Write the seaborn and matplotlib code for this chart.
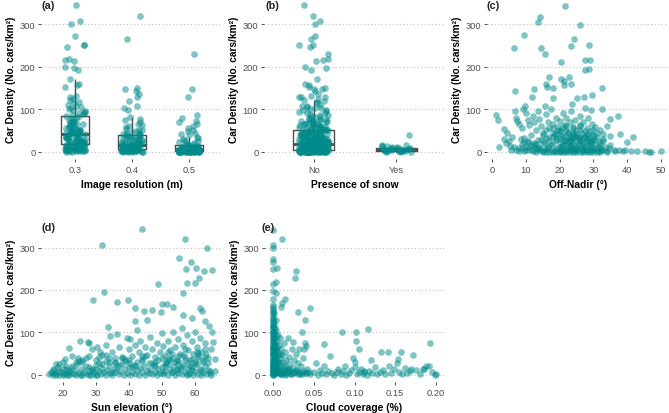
import numpy as np
import pandas as pd
import matplotlib
matplotlib.use("Agg")
import matplotlib.pyplot as plt
import seaborn as sns

# ---------------- data ----------------
res_levels = ["0.3", "0.4", "0.5"]
res03 = [345, 307, 300, 273, 252, 250, 247, 218, 216, 214,
         200, 196, 193, 171, 160, 157, 152, 130, 128, 125,
         122, 118, 115, 110, 108, 105, 103, 100, 98, 96,
         94, 92, 90, 88, 86,
         83, 81, 79, 77, 75, 73, 72, 70, 68, 67,
         65, 64, 62, 61, 60, 58, 57, 56, 55, 54,
         53, 52, 51, 50, 49, 48, 47, 46, 45, 45,
         44, 43, 43, 42, 42,
         41, 40, 39, 38, 37, 36, 35, 34, 33, 32,
         32, 31, 30, 29, 28, 28, 27, 26, 25, 25,
         24, 23, 23, 22, 22, 21, 21, 20, 20, 19,
         19, 18, 18, 18, 18,
         17, 16, 15, 15, 14, 13, 12, 12, 11, 10,
         10, 9, 9, 8, 8, 7, 7, 6, 6, 5,
         5, 5, 4, 4, 3, 3, 3, 2, 2, 2,
         1, 1, 1, 0, 0]
res04 = [320, 265, 150, 147, 143, 135, 128, 120, 108, 102, 97,
         81, 78, 74, 70, 66, 62, 60, 57, 54, 52, 50, 48, 46, 44, 43, 42, 41,
         40, 39, 38, 37, 36, 35, 34, 33, 32, 31, 30, 29, 28, 27, 26, 25,
         24, 23, 22, 21, 21, 20, 19, 19, 18, 18, 17, 16,
         16, 15, 15, 14, 14, 13, 13, 12, 12, 11, 11, 10, 10, 10, 9, 9,
         8, 8, 8, 7, 7, 7, 6, 6, 6, 6, 6, 6,
         5, 5, 5, 4, 4, 4, 4, 3, 3, 3, 3, 3, 2, 2, 2, 2, 2,
         1, 1, 1, 1, 1, 1, 0, 0, 0, 0, 0]
res05 = [230, 148, 128, 87, 80, 73, 70, 64, 60, 56, 52, 48, 45, 42, 39,
         35, 32, 30, 28, 26, 24, 22, 20, 18, 17,
         15, 15, 14, 13, 13, 12, 12, 11, 11, 10, 10, 9, 9, 9, 8, 8, 8,
         7, 7, 7, 7, 6, 6, 6, 6,
         6, 5, 5, 5, 5, 4, 4, 4, 4, 3, 3, 3, 3, 3, 2, 2, 2, 2, 2, 2,
         1, 1, 1, 1, 1,
         1, 1, 1, 1, 1, 1, 0, 0, 0, 0, 0, 0, 0, 0, 0, 0, 0, 0, 0, 0,
         0, 0, 0, 0, 0]

snow_levels = ["No", "Yes"]
snow_yes = [39, 16, 15, 14, 13, 12, 11, 10, 9, 9, 8, 7, 7, 6, 5, 5,
            4, 4, 4, 3, 3, 3, 2, 2, 2, 1, 1, 1, 0, 0, 0]

offnadir = [21.7, 14.1, 13.6, 25.9, 9.4, 24.2, 14.6, 6.6, 23.4, 28.6,
            15.6, 20.5, 27.4, 29.1, 27.6, 28.6, 20.3, 21.2, 22.9, 23.5,
            21.4, 16.8, 16.1, 16.3, 17.9, 12.4, 32.5, 29.6, 6.7, 11.8,
            18.1, 25.1, 27.1, 15.8, 9.7, 23.7, 32.5, 27.6, 29.3, 6.9,
            9.2, 1.2, 1.8, 3.4, 4.4, 3.5, 37.2, 34.8, 38.0, 41.7,
            40.0, 2.0, 5.4,
            7, 7.5, 8, 9, 10, 10.5, 11, 12, 12.5, 13,
            13.5, 14, 14.5, 15, 16, 16.5, 17, 17.5, 18, 18.5,
            19, 19.5, 20, 20.5, 21, 21, 21.5, 22, 22, 22.5,
            23, 23, 23.5, 24, 24, 24.5, 25, 25.5, 26, 26,
            26.5, 27, 27.5, 28, 28.5, 29, 29.5, 30, 30.5, 31,
            32, 33, 34, 35, 6, 8.5, 11.5, 5, 4, 9.5,
            5.5, 6.5, 7, 8, 9, 9.5, 10, 10.5, 11, 11.5,
            12, 12.5, 13, 13.5, 14, 14.5, 15, 15.5, 16, 16.5,
            17, 17.5, 18, 18.5, 19, 19.5, 20, 20, 20.5, 21,
            21, 21.5, 22, 22, 22.5, 23, 23, 23.5, 24, 24,
            24.5, 25, 25, 25.5, 26, 26, 26.5, 27, 27, 27.5,
            28, 28, 28.5, 29, 29, 29.5, 30, 30, 30.5, 31,
            31.5, 32, 32, 32.5, 33, 33.5, 34, 34.5, 35, 36,
            19, 21, 23, 25, 27, 29, 17, 15, 31, 13,
            20, 22, 24, 26, 28, 18, 30, 16, 23, 25,
            36.5, 38.8, 41, 42.9, 45.4, 46.6, 47, 50, 37.5, 39.5,
            15, 15.5, 16, 16.5, 17, 17.5, 18, 18.5, 19, 19.5,
            20, 20.5, 21, 21.5, 22, 22.5, 23, 23.5, 24, 24.5,
            25, 25.5, 26, 26.5, 27, 27.5, 28, 28.5, 29, 29.5,
            30, 30.5, 31, 31.5, 32, 32.5, 33, 18, 20, 22,
            24, 26, 28, 30, 21, 23, 25, 27, 29, 19,
            22, 24, 26, 28, 20, 23, 25, 27, 8, 9,
            10, 11, 12, 13, 14, 9.5, 10.5, 12.5, 13.5, 14.5,
            16, 18, 20, 22, 24, 26, 28, 30, 32, 34]
offnadir_density = [343, 318, 306, 298, 274, 265, 245, 245, 249, 251,
                    229, 212, 215, 215, 192, 194, 172, 167, 176, 159,
                    157, 176, 159, 153, 149, 147, 151, 134, 142, 128,
                    126, 126, 128, 108, 108, 113, 100, 102, 98, 95,
                    100, 86, 75, 53, 45, 30, 85, 77, 41, 34,
                    22, 10, 14,
                    80, 72, 65, 55, 90, 75, 62, 85, 70, 50,
                    95, 78, 60, 45, 88, 70, 55, 100, 65, 42,
                    80, 58, 72, 48, 90, 38, 62, 80, 52, 44,
                    70, 35, 95, 58, 42, 75, 50, 35, 85, 62,
                    45, 70, 38, 55, 80, 48, 65, 40, 58, 35,
                    50, 42, 60, 38, 35, 30, 40, 25, 20, 22,
                    5, 12, 3, 8, 18, 2, 10, 25, 5, 15,
                    1, 20, 8, 3, 12, 28, 2, 18, 6, 10,
                    24, 1, 15, 5, 30, 8, 2, 20, 12, 4,
                    26, 16, 1, 9, 22, 3, 14, 28, 6, 18,
                    1, 11, 25, 4, 16, 30, 8, 2, 20, 12,
                    5, 26, 1, 15, 9, 22, 3, 12, 28, 6,
                    1, 18, 9, 3, 25, 12, 2, 8, 15, 3,
                    0, 0, 0, 0, 0, 0, 0, 0, 0, 0,
                    33, 36, 32, 34, 31, 34, 30, 32, 25, 38,
                    2, 2, 1, 1, 1, 0, 0, 1, 5, 3,
                    40, 22, 50, 8, 35, 18, 45, 2, 28, 52,
                    10, 38, 58, 24, 5, 46, 30, 15, 55, 3,
                    42, 20, 60, 7, 33, 48, 14, 40, 26, 4,
                    36, 18, 45, 10, 22, 5, 30, 55, 48, 60,
                    45, 52, 42, 50, 15, 12, 8, 18, 22, 42,
                    28, 35, 25, 32, 1, 3, 6, 4, 2, 8,
                    5, 12, 3, 18, 8, 32, 22, 15, 28, 5,
                    0, 0, 0, 0, 0, 0, 0, 0, 0, 0]

sun_elev = [44.1, 32.0, 57.0, 63.8, 55.2, 58.8, 57.3, 60.2, 62.8, 65.2,
            61.1, 60.1, 57.5, 56.4, 48.9, 29.2, 32.6, 36.6, 39.7, 41.9,
            44.6, 47.1, 50.1, 51.5, 53.3, 49.9, 41.9, 45.4, 61.5, 62.3,
            59.2, 56.5, 63.2, 64.3, 65.2, 65.5, 33.6, 34.4, 36.4, 25.3,
            22.1, 27.8, 28.1, 30.4, 31.4, 20.8, 22.8, 24.8, 39.5, 42.5,
            26, 28, 29, 30, 31, 32, 33, 34, 35, 36,
            37, 38, 39, 40, 40.5, 41, 42, 42.5, 43, 43.5,
            44, 45, 45.5, 46, 46.5, 47, 48, 48.5, 49, 49.5,
            50, 50.5, 51, 51.5, 52, 52.5, 53, 53.5, 54, 54.5,
            55, 55.5, 56, 56.5, 57, 57.5, 58, 58.5, 59, 59.5,
            60, 60.5, 61, 61.5, 62, 62.5, 63, 63.5, 64, 65,
            66, 60, 58, 55, 52, 48, 44, 40, 36, 33,
            16, 16.5, 17, 17.5, 18, 18.5, 19, 19.5, 20, 20.5,
            21, 21.5, 22, 22.5, 23, 23.5, 24, 24.5, 25, 25.5,
            26, 26.5, 27, 27.5, 28, 28.5, 29, 29.5, 30, 30.5,
            31, 31.5, 32, 32.5, 33, 33.5, 34, 34.5, 35, 35.5,
            36, 36.5, 37, 37.5, 38, 38.5, 39, 39.5, 40, 40.5,
            41, 41.5, 42, 42.5, 43, 43.5, 44, 44.5, 45, 45.5,
            46, 46.5, 47, 47.5, 48, 48.5, 49, 49.5, 50, 50.5,
            51, 51.5, 52, 52.5, 53, 53.5, 54, 54.5, 55, 55.5,
            56, 56.5, 57, 57.5, 58, 58.5, 59, 59.5, 60, 60.5,
            61, 61.5, 62, 62.5, 63, 63.5, 64, 64.5, 65, 66,
            18, 20, 22, 24, 26, 28, 30, 17, 19, 21,
            50, 51, 52, 53, 54, 55, 56, 57, 58, 59,
            60, 61, 62, 63, 64, 50.5, 52.5, 54.5, 56.5, 58.5,
            60.5, 62.5, 64.5, 55, 57, 59, 61, 63, 53, 51,
            20, 23, 26, 29, 32, 35, 38, 41, 44, 47,
            18, 21, 24, 27, 30, 33, 36, 39, 42, 45,
            48, 17, 19, 22, 25, 28, 31, 34, 37, 40]
sun_density = [343, 306, 320, 300, 275, 265, 249, 251, 245, 247,
               229, 216, 216, 192, 214, 177, 196, 172, 176, 157,
               150, 152, 168, 168, 160, 148, 128, 130, 157, 150,
               135, 141, 127, 115, 100, 78, 114, 92, 96, 80,
               63, 78, 75, 66, 55, 37, 45, 41, 87, 105,
               30, 45, 62, 35, 28, 48, 70, 40, 55, 30,
               65, 42, 33, 60, 85, 45, 70, 30, 55, 80,
               38, 65, 48, 28, 90, 60, 42, 75, 35, 55,
               98, 68, 45, 30, 80, 58, 40, 100, 65, 35,
               85, 50, 110, 70, 42, 95, 58, 35, 80, 50,
               100, 65, 45, 88, 55, 35, 75, 50, 40, 60,
               38, 30, 28, 32, 38, 30, 32, 28, 40, 32,
               2, 8, 0, 12, 4, 18, 1, 7, 14, 3,
               22, 0, 9, 5, 16, 2, 11, 25, 4, 0,
               13, 6, 20, 2, 9, 1, 15, 5, 24, 0,
               10, 3, 17, 7, 1, 12, 22, 4, 0, 14,
               6, 19, 2, 9, 25, 1, 13, 5, 18, 0,
               8, 23, 3, 12, 1, 16, 6, 21, 0, 10,
               4, 15, 2, 24, 8, 0, 13, 5, 19, 2,
               10, 25, 1, 14, 6, 20, 0, 11, 4, 17,
               2, 23, 8, 0, 13, 5, 19, 1, 10, 25,
               3, 15, 0, 8, 20, 2, 12, 5, 1, 9,
               0, 0, 0, 0, 0, 0, 0, 5, 10, 5,
               40, 22, 55, 8, 30, 45, 18, 60, 3, 38,
               25, 52, 12, 42, 28, 6, 35, 15, 48, 20,
               55, 30, 10, 25, 35, 12, 40, 60, 50, 28,
               30, 20, 35, 12, 25, 8, 40, 18, 45, 28,
               26, 14, 30, 40, 15, 48, 28, 38, 20, 45,
               22, 15, 25, 10, 32, 18, 42, 30, 24, 35]

cloud = [0, 0, 0, 0, 0, 0, 0, 0, 0.011, 0.005,
         0.003, 0.004, 0.028, 0.027, 0.014, 0.011, 0.010, 0.030, 0.045, 0.039,
         0.036, 0.039, 0.041, 0.063, 0.070, 0.053, 0.085, 0.102, 0.102, 0.105,
         0.098, 0.117, 0.132, 0.141, 0.157, 0.154, 0.172, 0.193, 0.191, 0.186,
         0.200, 0.170, 0.0,
         0, 0, 0, 0, 0, 0, 0, 0, 0, 0,
         0, 0, 0, 0, 0, 0, 0, 0, 0, 0,
         0, 0, 0, 0, 0, 0, 0, 0, 0, 0,
         0, 0, 0.001, 0.001, 0.001, 0.001, 0.001, 0.001, 0.001, 0.001,
         0.001, 0.001, 0.002, 0.002, 0.002, 0.002, 0.002, 0.002, 0.002, 0.002,
         0.002, 0.003, 0.003, 0.003, 0.003, 0.003, 0, 0, 0, 0,
         0.004, 0.005, 0.006, 0.006, 0.007, 0.008, 0.008, 0.009, 0.010, 0.010,
         0.011, 0.012, 0.013, 0.013, 0.014, 0.015, 0.016, 0.017, 0.018, 0.018,
         0.019, 0.020, 0.021, 0.022, 0.023, 0.024, 0.025, 0.026, 0.027, 0.028,
         0.029, 0.031, 0.032, 0.033, 0.034, 0.035, 0.037, 0.038, 0.040, 0.042,
         0.005, 0.006, 0.007, 0.008, 0.009, 0.004, 0.005, 0.011, 0.012, 0.015,
         0.045, 0.050, 0.055, 0.058, 0.060, 0.062, 0.065, 0.068, 0.072, 0.075,
         0.078, 0.080, 0.083, 0.086, 0.088, 0.090, 0.093, 0.096, 0.100, 0.103,
         0.106, 0.108, 0.110, 0.112, 0.115, 0.118, 0.120, 0.122, 0.125, 0.128,
         0.131, 0.135, 0.138, 0.142, 0.145, 0.148, 0.152, 0.155, 0.158, 0.162,
         0.165, 0.168, 0.175, 0.180, 0.184, 0.188, 0.195, 0.199, 0.112, 0.100,
         0, 0, 0, 0, 0, 0, 0, 0, 0, 0,
         0, 0, 0, 0, 0, 0, 0, 0, 0, 0,
         0.001, 0.002, 0.003, 0.004, 0.005, 0.006, 0.007, 0.008, 0.009, 0.010,
         0.012, 0.014, 0.016, 0.018, 0.020, 0.022, 0.024, 0.026, 0.028, 0.030,
         0.032, 0.035, 0.038, 0.041, 0.044, 0.001, 0.002, 0.003, 0.004, 0.006]
cloud_density = [306, 298, 272, 265, 249, 214, 198, 178, 320, 251,
                 218, 194, 245, 229, 178, 170, 159, 149, 157, 129,
                 100, 76, 68, 72, 45, 29, 100, 101, 80, 60,
                 41, 108, 53, 54, 53, 37, 46, 75, 21, 13,
                 2, 13, 342,
                 150, 140, 132, 125, 118, 110, 104, 98, 92, 86,
                 80, 75, 70, 65, 60, 55, 50, 46, 42, 38,
                 34, 30, 27, 24, 21, 18, 15, 12, 9, 6,
                 3, 0, 145, 120, 100, 85, 68, 52, 40, 28,
                 16, 5, 110, 90, 72, 58, 44, 33, 22, 10,
                 2, 130, 95, 62, 35, 14, 160, 165, 155, 135,
                 105, 80, 95, 55, 70, 40, 88, 25, 60, 12,
                 48, 30, 75, 8, 20, 55, 35, 5, 88, 15,
                 42, 25, 10, 3, 60, 18, 78, 35, 6, 50,
                 12, 28, 62, 2, 20, 8, 40, 60, 5, 15,
                 20, 10, 30, 2, 50, 35, 65, 3, 18, 1,
                 3, 8, 1, 12, 4, 20, 2, 10, 5, 1,
                 6, 14, 3, 9, 20, 1, 5, 12, 30, 2,
                 8, 15, 3, 6, 1, 10, 35, 4, 18, 2,
                 7, 12, 3, 20, 5, 14, 28, 8, 2, 16,
                 5, 10, 12, 3, 14, 20, 6, 1, 10, 18,
                 145, 128, 115, 102, 96, 88, 78, 66, 58, 48,
                 36, 26, 20, 14, 8, 4, 1, 62, 52, 112,
                 12, 6, 25, 18, 8, 30, 4, 14, 10, 2,
                 6, 12, 3, 9, 15, 2, 8, 5, 12, 3,
                 7, 2, 10, 4, 6, 75, 60, 45, 22, 48]

# ---------------- style ----------------
sns.set_theme(style="white")
plt.rcParams["font.family"] = ["Liberation Sans", "DejaVu Sans"]

PT = "#008B8B"
BOX = "#4D4D4D"
W, H = 669, 414
YLAB = "Car Density (No. cars/km²)"

fig = plt.figure(figsize=(W / 100, H / 100), dpi=100)


def add_ax(l, t, r, b):
    return fig.add_axes([l / W, 1 - b / H, (r - l) / W, (b - t) / H])


def style(ax, xlabel):
    for s in ax.spines.values():
        s.set_visible(False)
    ax.set_ylim(-17.2, 359.3)
    ax.set_yticks([0, 100, 200, 300])
    ax.yaxis.grid(True, linestyle=(0, (1, 2.2)), color="#BEBEBE", linewidth=0.8)
    ax.xaxis.grid(False)
    ax.set_axisbelow(True)
    ax.tick_params(axis="both", which="both", length=2.5, width=0.6, color="#333333",
                   labelsize=6.7, labelcolor="#4D4D4D", pad=1.5,
                   left=True, bottom=True)
    ax.set_ylabel(YLAB, fontsize=7.3, fontweight="bold", color="black", labelpad=3)
    ax.set_xlabel(xlabel, fontsize=7.4, fontweight="bold", color="black", labelpad=4)


np.random.seed(3)

# (a) image resolution
ax_a = add_ax(41, 0, 223, 160)
df_a = pd.DataFrame({
    "res": [res_levels[0]] * len(res03) + [res_levels[1]] * len(res04) + [res_levels[2]] * len(res05),
    "density": res03 + res04 + res05,
})
sns.stripplot(data=df_a, x="res", y="density", order=res_levels, jitter=0.19, size=4.8,
              color=PT, alpha=0.5, linewidth=0, ax=ax_a)
sns.boxplot(data=df_a, x="res", y="density", order=res_levels, width=0.5, fill=False,
            color=BOX, linecolor=BOX, showfliers=False, showcaps=False, linewidth=1.0,
            medianprops={"linewidth": 2.0}, ax=ax_a)
ax_a.set_xlim(-0.6, 2.6)
style(ax_a, "Image resolution (m)")

# (b) snow
ax_b = add_ax(264, 0, 446, 160)
snow_no = res03 + res04 + res05
df_b = pd.DataFrame({
    "snow": [snow_levels[0]] * len(snow_no) + [snow_levels[1]] * len(snow_yes),
    "density": snow_no + snow_yes,
})
sns.stripplot(data=df_b, x="snow", y="density", order=snow_levels, jitter=0.18, size=4.8,
              color=PT, alpha=0.5, linewidth=0, ax=ax_b)
sns.boxplot(data=df_b, x="snow", y="density", order=snow_levels, width=0.5, fill=False,
            color=BOX, linecolor=BOX, showfliers=False, showcaps=False, linewidth=1.0,
            medianprops={"linewidth": 2.0}, ax=ax_b)
ax_b.set_xlim(-0.6, 1.6)
style(ax_b, "Presence of snow")

# (c) off-nadir
ax_c = add_ax(487, 0, 669, 160)
sns.scatterplot(x=offnadir, y=offnadir_density, s=23, color=PT, alpha=0.5,
                linewidth=0, ax=ax_c)
ax_c.set_xlim(-1.5, 52.4)
ax_c.set_xticks([0, 10, 20, 30, 40, 50])
style(ax_c, "Off-Nadir (°)")

# (d) sun elevation
ax_d = add_ax(41, 223.3, 223, 383.3)
sns.scatterplot(x=sun_elev, y=sun_density, s=23, color=PT, alpha=0.5,
                linewidth=0, ax=ax_d)
ax_d.set_xlim(13.5, 68.5)
ax_d.set_xticks([20, 30, 40, 50, 60])
style(ax_d, "Sun elevation (°)")

# (e) cloud coverage
ax_e = add_ax(265, 223.3, 444, 383.3)
sns.scatterplot(x=cloud, y=cloud_density, s=23, color=PT, alpha=0.5,
                linewidth=0, ax=ax_e)
ax_e.set_xlim(-0.01, 0.21)
ax_e.set_xticks([0, 0.05, 0.10, 0.15, 0.20])
ax_e.set_xticklabels(["0.00", "0.05", "0.10", "0.15", "0.20"])
style(ax_e, "Cloud coverage (%)")

# panel tags
for tag, (x, y) in {"(a)": (41, 6), "(b)": (265, 6), "(c)": (487, 6),
                    "(d)": (41, 228), "(e)": (262, 228)}.items():
    fig.text(x / W, 1 - y / H, tag, fontsize=7.8, fontweight="bold",
             ha="left", va="center")

fig.savefig("out.png", dpi=100)
